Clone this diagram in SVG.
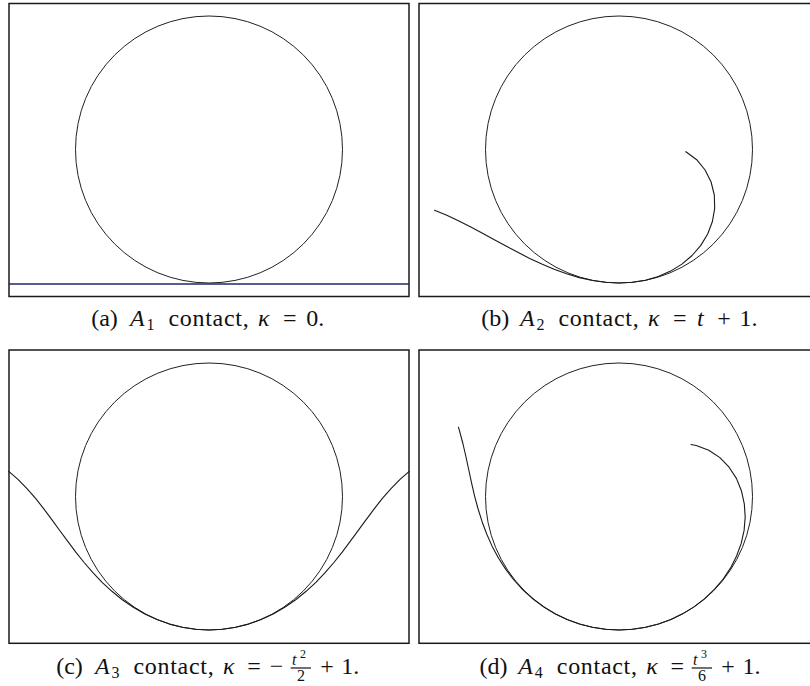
<svg xmlns="http://www.w3.org/2000/svg" width="810" height="686" viewBox="0 0 810 686">
<style>
.frame{fill:none;stroke:#1a1a1a;stroke-width:1.5}
.circ{fill:none;stroke:#222;stroke-width:1}
.curve{fill:none;stroke:#1a1a1a;stroke-width:1.1;stroke-linejoin:round;stroke-linecap:round}
.cap{font-family:"Liberation Serif","Times New Roman",serif;font-size:24px;fill:#111}
.it{font-style:italic}
.sub{font-size:16px}
.sup{font-size:12px}
.ls{letter-spacing:0.7px}
.bar{stroke:#111;stroke-width:1.2}
</style>
<rect width="810" height="686" fill="#fff"/>

<g id="panel-a">
<rect class="frame" x="9" y="3.5" width="400" height="293"/>
<circle class="circ" cx="209" cy="149.5" r="133.5"/>
<line x1="9" y1="284" x2="409" y2="284" stroke="#1f2868" stroke-width="1.6"/>
<text class="cap" font-family="Liberation Serif, serif" y="326"><tspan x="91.2">(a)</tspan><tspan class="it" x="130">A</tspan><tspan class="sub" x="146.5" y="330">1</tspan><tspan class="ls" x="168.5" y="326">contact,</tspan><tspan class="it" x="258">κ</tspan><tspan x="283">=</tspan><tspan x="306.2">0.</tspan></text>
</g>

<g id="panel-b">
<rect class="frame" x="419" y="3.5" width="400" height="293"/>
<circle class="circ" cx="619" cy="149.5" r="133.5"/>
<polyline class="curve" points="434.5,210.2 446.8,215.3 458.9,221.0 470.8,227.1 482.5,233.3 494.3,239.7 506.0,246.1 517.8,252.3 529.7,258.4 541.8,264.1 554.1,269.2 566.6,273.8 579.4,277.6 592.4,280.5 605.7,282.3 619,283 632.3,282.3 645.5,280.2 658.3,276.5 670.6,271.1 681.9,264.1 692.1,255.5 700.8,245.4 707.7,234.0 712.4,221.5 714.7,208.3 714.3,195.0 711.1,182.0 705.1,170.0 696.7,159.7 685.9,151.7"/>
<text class="cap" font-family="Liberation Serif, serif" y="326"><tspan x="481.2">(b)</tspan><tspan class="it" x="520">A</tspan><tspan class="sub" x="536.5" y="330">2</tspan><tspan class="ls" x="558.5" y="326">contact,</tspan><tspan class="it" x="648">κ</tspan><tspan x="673">=</tspan><tspan class="it" x="697">t</tspan><tspan x="717.2">+</tspan><tspan x="739.5">1.</tspan></text>
</g>

<g id="panel-c">
<rect class="frame" x="9" y="350" width="400" height="293.3"/>
<circle class="circ" cx="209" cy="496.5" r="133.5"/>
<polyline class="curve" points="8.75,471.35 17.7,479.1 27.0,488.6 35.8,498.7 44.0,509.2 52.0,519.9 59.9,530.7 67.8,541.4 75.8,552.1 84.1,562.5 92.9,572.6 102.1,582.3 111.9,591.3 122.3,599.7 133.3,607.3 144.8,614.0 156.9,619.6 169.5,624.1 182.5,627.3 195.7,629.3 209,630 222.3,629.3 235.5,627.3 248.5,624.1 261.1,619.6 273.2,614.0 284.7,607.3 295.7,599.7 306.1,591.3 315.9,582.3 325.1,572.6 333.9,562.5 342.2,552.1 350.2,541.4 358.1,530.7 366.0,519.9 374.0,509.2 382.2,498.7 391.0,488.6 400.3,479.1 409.25,471.35"/>
<text class="cap" font-family="Liberation Serif, serif" y="674"><tspan x="56.2">(c)</tspan><tspan class="it" x="95">A</tspan><tspan class="sub" x="111.5" y="678">3</tspan><tspan class="ls" x="133.5" y="674">contact,</tspan><tspan class="it" x="223">κ</tspan><tspan x="247.2">=</tspan><tspan x="269.7">−</tspan><tspan x="320.2">+</tspan><tspan x="341.2">1.</tspan></text>
<text class="cap" font-family="Liberation Serif, serif" y="664.7"><tspan class="it sub" x="292">t</tspan><tspan class="sup" x="300" y="657.5">2</tspan><tspan class="sub" x="297" y="681.3">2</tspan></text>
<line class="bar" x1="290.7" y1="668" x2="311" y2="668"/>
</g>

<g id="panel-d">
<rect class="frame" x="419" y="350" width="400" height="293.3"/>
<circle class="circ" cx="619" cy="496.5" r="133.5"/>
<polyline class="curve" points="458.4,427.2 459.6,431.1 463.0,444.0 466.0,457.0 468.8,470.0 471.6,483.1 474.6,496.1 478.1,509.0 482.1,521.7 486.8,534.2 492.2,546.4 498.6,558.2 505.8,569.4 513.9,580.0 522.9,589.8 532.8,598.8 543.5,606.8 554.9,613.7 567.0,619.5 579.5,624.0 592.5,627.3 605.7,629.3 619,630 632.3,629.3 645.5,627.3 658.5,624.0 671.0,619.5 683.0,613.6 694.4,606.6 705.0,598.4 714.6,589.2 723.2,579.0 730.6,567.9 736.6,556.0 741.2,543.4 744.1,530.4 745.2,517.1 744.3,503.8 741.4,490.7 736.4,478.4 729.1,467.2 719.9,457.6 708.8,450.2 696.2,445.5 691.0,444.5"/>
<text class="cap" font-family="Liberation Serif, serif" y="674"><tspan x="479.5">(d)</tspan><tspan class="it" x="518.3">A</tspan><tspan class="sub" x="534.8" y="678">4</tspan><tspan class="ls" x="556.8" y="674">contact,</tspan><tspan class="it" x="646.3">κ</tspan><tspan x="670.5">=</tspan><tspan x="721.3">+</tspan><tspan x="742.5">1.</tspan></text>
<text class="cap" font-family="Liberation Serif, serif" y="664.7"><tspan class="it sub" x="693">t</tspan><tspan class="sup" x="701" y="657.5">3</tspan><tspan class="sub" x="698" y="681.3">6</tspan></text>
<line class="bar" x1="691.7" y1="668" x2="712" y2="668"/>
</g>
</svg>
